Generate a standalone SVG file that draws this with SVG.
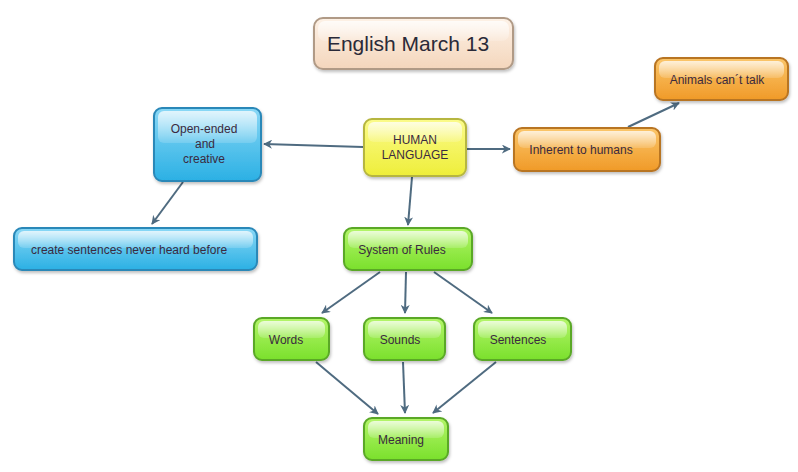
<svg xmlns="http://www.w3.org/2000/svg" width="798" height="472" viewBox="0 0 798 472">
<defs>
<linearGradient id="gTitle" x1="0" y1="0" x2="0" y2="1"><stop offset="0" stop-color="#fdf1e6"/><stop offset="1" stop-color="#f4d6bc"/></linearGradient>
<linearGradient id="gYellow" x1="0" y1="0" x2="0" y2="1"><stop offset="0" stop-color="#fbfb8a"/><stop offset="1" stop-color="#eeee3a"/></linearGradient>
<linearGradient id="gBlue" x1="0" y1="0" x2="0" y2="1"><stop offset="0" stop-color="#8ad8f6"/><stop offset="1" stop-color="#2bb0e4"/></linearGradient>
<linearGradient id="gOrange" x1="0" y1="0" x2="0" y2="1"><stop offset="0" stop-color="#fbc66a"/><stop offset="1" stop-color="#f09a28"/></linearGradient>
<linearGradient id="gGreen" x1="0" y1="0" x2="0" y2="1"><stop offset="0" stop-color="#b4f56a"/><stop offset="1" stop-color="#7ae02c"/></linearGradient>
<linearGradient id="gHi" x1="0" y1="0" x2="0" y2="1"><stop offset="0" stop-color="#fff" stop-opacity="0.75"/><stop offset="1" stop-color="#fff" stop-opacity="0.15"/></linearGradient>
<filter id="sh" x="-20%" y="-20%" width="140%" height="150%"><feDropShadow dx="1" dy="2" stdDeviation="1.5" flood-color="#000" flood-opacity="0.25"/></filter>
<marker id="ah" viewBox="0 0 10 10" refX="9" refY="5" markerWidth="9" markerHeight="9" markerUnits="userSpaceOnUse" orient="auto"><path d="M0,0 L10,5 L0,10 L3,5 Z" fill="#4f6b80"/></marker>
</defs>
<style>
.t{font-family:"Liberation Sans",Arial,sans-serif;font-size:12px;fill:#3a2a40;text-anchor:middle}
.title{font-family:"Liberation Sans",Arial,sans-serif;font-size:21px;fill:#2a2a38;text-anchor:middle}
.e{stroke:#4f6b80;stroke-width:2;fill:none;marker-end:url(#ah)}
.hi{fill:url(#gHi)}
.b{stroke-width:2}
</style>
<rect width="798" height="472" fill="#fff"/>
<g id="connectors">
<line class="e" x1="363" y1="147" x2="264" y2="144"/>
<line class="e" x1="466" y1="149" x2="510" y2="149"/>
<line class="e" x1="628" y1="127" x2="679" y2="103"/>
<line class="e" x1="183" y1="182" x2="152" y2="224"/>
<line class="e" x1="412" y1="177" x2="408" y2="225"/>
<line class="e" x1="380" y1="272" x2="322" y2="313"/>
<line class="e" x1="406" y1="272" x2="405" y2="313"/>
<line class="e" x1="434" y1="272" x2="492" y2="313"/>
<line class="e" x1="316" y1="362" x2="378" y2="414"/>
<line class="e" x1="403" y1="362" x2="405" y2="413"/>
<line class="e" x1="496" y1="362" x2="433" y2="413"/>
</g>
<g id="title">
<rect x="314" y="18" width="199" height="51" rx="9" fill="url(#gTitle)" stroke="#b09a86" class="b" filter="url(#sh)"/>
<rect x="318" y="21" width="191" height="20" rx="7" class="hi"/>
<text class="title" x="408" y="51">English March 13</text>
</g>
<g id="human-language">
<rect x="364" y="119" width="102" height="57" rx="8" fill="url(#gYellow)" stroke="#b6b640" class="b" filter="url(#sh)"/>
<rect x="368" y="122" width="94" height="20" rx="6" class="hi"/>
<text class="t" x="415" y="144">HUMAN</text>
<text class="t" x="415" y="159">LANGUAGE</text>
</g>
<g id="open-ended">
<rect x="154" y="108" width="107" height="73" rx="8" fill="url(#gBlue)" stroke="#2a88b8" class="b" filter="url(#sh)"/>
<rect x="158" y="111" width="99" height="32" rx="6" class="hi"/>
<text class="t" x="204" y="133">Open-ended</text>
<text class="t" x="205" y="148">and</text>
<text class="t" x="204" y="163">creative</text>
</g>
<g id="inherent">
<rect x="514" y="128" width="146" height="43" rx="8" fill="url(#gOrange)" stroke="#b87424" class="b" filter="url(#sh)"/>
<rect x="518" y="131" width="138" height="17" rx="6" class="hi"/>
<text class="t" x="581" y="154">Inherent to humans</text>
</g>
<g id="animals">
<rect x="655" y="58" width="133" height="42" rx="8" fill="url(#gOrange)" stroke="#b87424" class="b" filter="url(#sh)"/>
<rect x="659" y="61" width="125" height="17" rx="6" class="hi"/>
<text class="t" x="717" y="84">Animals can´t talk</text>
</g>
<g id="create-sentences">
<rect x="14" y="228" width="243" height="42" rx="8" fill="url(#gBlue)" stroke="#2a88b8" class="b" filter="url(#sh)"/>
<rect x="18" y="231" width="235" height="17" rx="6" class="hi"/>
<text class="t" x="129" y="254">create sentences never heard before</text>
</g>
<g id="system-of-rules">
<rect x="344" y="228" width="128" height="42" rx="8" fill="url(#gGreen)" stroke="#5aa828" class="b" filter="url(#sh)"/>
<rect x="348" y="231" width="120" height="17" rx="6" class="hi"/>
<text class="t" x="402" y="254">System of Rules</text>
</g>
<g id="words">
<rect x="254" y="318" width="75" height="42" rx="8" fill="url(#gGreen)" stroke="#5aa828" class="b" filter="url(#sh)"/>
<rect x="258" y="321" width="67" height="17" rx="6" class="hi"/>
<text class="t" x="286" y="344">Words</text>
</g>
<g id="sounds">
<rect x="364" y="318" width="81" height="42" rx="8" fill="url(#gGreen)" stroke="#5aa828" class="b" filter="url(#sh)"/>
<rect x="368" y="321" width="73" height="17" rx="6" class="hi"/>
<text class="t" x="400" y="344">Sounds</text>
</g>
<g id="sentences">
<rect x="474" y="318" width="97" height="42" rx="8" fill="url(#gGreen)" stroke="#5aa828" class="b" filter="url(#sh)"/>
<rect x="478" y="321" width="89" height="17" rx="6" class="hi"/>
<text class="t" x="518" y="344">Sentences</text>
</g>
<g id="meaning">
<rect x="364" y="418" width="84" height="42" rx="8" fill="url(#gGreen)" stroke="#5aa828" class="b" filter="url(#sh)"/>
<rect x="368" y="421" width="76" height="17" rx="6" class="hi"/>
<text class="t" x="401" y="444">Meaning</text>
</g>
</svg>
